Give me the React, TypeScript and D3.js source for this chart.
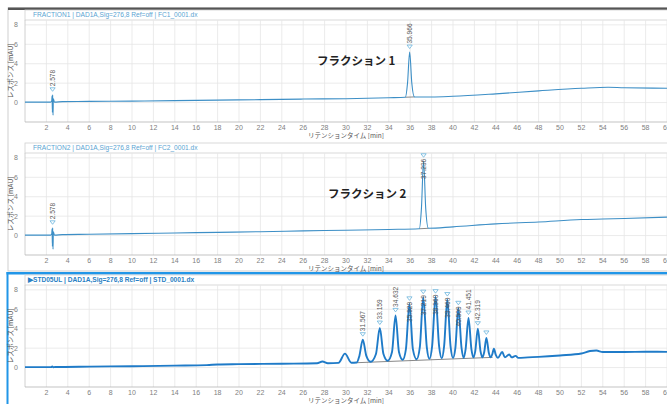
import * as React from "react";
import * as d3 from "d3";

// retention time [min], response [mAU]
const fraction1Trace: [number, number][] = [
  [0, 0.05], [2.4, 0.05], [2.5, 0.2], [2.53, 0.7], [2.56, -1.0], [2.59, 0.8], [2.62, -1.3],
  [2.65, 0.4], [2.75, 0.05],
  [3.5, 0.1], [6, 0.12], [10, 0.15], [14, 0.2], [18, 0.25], [22, 0.3], [26, 0.36],
  [30, 0.4], [34, 0.5], [35.55, 0.55], [35.75, 2.0], [35.95, 5.2], [36.15, 2.0],
  [36.4, 0.58], [38, 0.58], [40, 0.65], [44, 0.9], [48, 1.2], [52, 1.47], [54.5, 1.58],
  [56, 1.52], [60, 1.48],
];

const fraction2Trace: [number, number][] = [
  [0, 0.05], [2.4, 0.05], [2.5, 0.2], [2.53, 0.7], [2.56, -1.1], [2.59, 0.8], [2.62, -1.4],
  [2.65, 0.4], [2.75, 0.05],
  [3.5, 0.1], [6, 0.13], [10, 0.2], [14, 0.27], [18, 0.33], [22, 0.4], [26, 0.48],
  [30, 0.55], [34, 0.63], [36.85, 0.7], [37.05, 2.8], [37.25, 7.7], [37.45, 2.8],
  [37.7, 0.75], [40, 0.9], [44, 1.2], [48, 1.4], [52, 1.65], [54, 1.7], [56, 1.75],
  [60, 1.9],
];

const stdTrace: [number, number][] = [
  [0, 0.05], [2.45, 0.05], [2.55, 0.12], [2.65, 0.04], [2.8, 0.06], [6, 0.1], [10, 0.14],
  [14, 0.2], [17, 0.25], [18, 0.32], [20, 0.35], [24, 0.4], [27.3, 0.44], [27.8, 0.62],
  [28.3, 0.45], [29.3, 0.48], [29.9, 1.44], [30.5, 0.5], [31.0, 0.52],
  [31.25, 1.2], [31.57, 2.87], [31.9, 1.2], [32.3, 0.6],
  [32.8, 1.4], [33.16, 4.07], [33.5, 1.4], [33.9, 0.7],
  [34.3, 1.6], [34.63, 5.37], [34.95, 1.6], [35.3, 0.8],
  [35.6, 1.9], [35.93, 6.56], [36.25, 1.9], [36.6, 0.85],
  [36.9, 2.1], [37.22, 7.25], [37.55, 2.1], [37.8, 0.9],
  [38.05, 2.2], [38.37, 7.3], [38.7, 2.2], [38.95, 0.95],
  [39.17, 2.2], [39.47, 7.0], [39.77, 2.2], [40.0, 1.0],
  [40.22, 2.0], [40.5, 6.1], [40.8, 2.0], [41.0, 1.0],
  [41.18, 1.9], [41.45, 5.1], [41.72, 1.9], [41.9, 1.05],
  [42.08, 1.7], [42.32, 4.0], [42.57, 1.7], [42.75, 1.05],
  [42.92, 1.6], [43.12, 3.05], [43.35, 1.5], [43.5, 1.05],
  [43.68, 1.4], [43.82, 1.95], [44.0, 1.3], [44.2, 1.0],
  [44.6, 1.6], [44.85, 1.05], [45.25, 1.35], [45.5, 1.05], [45.85, 1.2], [46.1, 1.0],
  [47, 1.05], [48, 1.1], [50, 1.25], [52, 1.45], [52.8, 1.7], [53.4, 1.75], [54, 1.6],
  [56, 1.6], [58, 1.63], [60, 1.62],
];

// peak markers: time, apex height, label
const fraction1Peaks = [
  { t: 2.578, h: 0.8, label: "2.578" },
  { t: 35.95, h: 5.2, label: "35.966" },
];
const fraction2Peaks = [
  { t: 2.578, h: 0.8, label: "2.578" },
  { t: 37.25, h: 7.7, label: "37.236" },
];
const stdPeaks = [
  { t: 31.57, h: 2.87, label: "31.567" },
  { t: 33.16, h: 4.07, label: "33.159" },
  { t: 34.63, h: 5.37, label: "34.632" },
  { t: 35.93, h: 6.56, label: "35.929" },
  { t: 37.22, h: 7.25, label: "37.219" },
  { t: 38.37, h: 7.3, label: "38.360" },
  { t: 39.47, h: 7.0, label: "39.460" },
  { t: 40.5, h: 6.1, label: "40.509" },
  { t: 41.45, h: 5.1, label: "41.451" },
  { t: 42.32, h: 4.0, label: "42.319" },
  { t: 43.12, h: 3.05, label: "" },
];

// integration baselines
const fraction1Base: [number, number][] = [[35.55, 0.55], [36.4, 0.58]];
const fraction2Base: [number, number][] = [[36.85, 0.7], [37.7, 0.75]];
const stdBase: [number, number][] = [[31.0, 0.5], [43.7, 1.05]];

const xTicks = d3.range(2, 62, 2);
const yTicks = [0, 2, 4, 6, 8];

const W = 667;
const left = 25;
const font = "'Liberation Sans', Arial, sans-serif";
const jpFont = "'Noto Sans CJK JP', sans-serif";

type PanelProps = {
  top: number;
  title: string;
  trace: [number, number][];
  peaks: { t: number; h: number; label: string }[];
  base: [number, number][];
  note?: string;
  noteX?: number;
  highlight?: boolean;
};

function Panel({ top, title, trace, peaks, base, note, noteX, highlight }: PanelProps) {
  const plotTop = top;
  const plotBottom = top + 102;
  const x = d3.scaleLinear().domain([0, 60]).range([left, W]);
  const y = d3.scaleLinear().domain([-2, 8.5]).range([plotBottom, plotTop]);
  const line = d3
    .line<[number, number]>()
    .x((d) => x(d[0]))
    .y((d) => y(d[1]))
    .curve(d3.curveMonotoneX);

  const stroke = highlight ? "#1f7bc8" : "#3d8fc6";
  const labelLen = 17;

  return (
    <g>
      {/* title box */}
      <rect x={left} y={plotTop - 10} width={W - left + 2} height={10} fill="#fff" stroke="#d0d0d0" strokeWidth={0.8} />
      <text
        x={highlight ? 28 : 33}
        y={plotTop - 2.8}
        fontSize={6.6}
        fontFamily={font}
        fill={highlight ? "#2a7fc4" : "#5aa4d2"}
        fontWeight={highlight ? 600 : 400}
      >
        {title}
      </text>
      {/* grid */}
      {xTicks.map((t) => (
        <line key={`gx${t}`} x1={x(t)} x2={x(t)} y1={plotTop} y2={plotBottom} stroke="#e6e6e6" strokeWidth={0.8} />
      ))}
      {yTicks.map((t) => (
        <line key={`gy${t}`} x1={left} x2={W} y1={y(t)} y2={y(t)} stroke="#e6e6e6" strokeWidth={0.8} />
      ))}
      <line x1={left} x2={left} y1={plotTop} y2={plotBottom} stroke="#c4c4c4" strokeWidth={0.8} />
      <line x1={left} x2={W} y1={plotBottom} y2={plotBottom} stroke="#b4b4b4" strokeWidth={0.8} />
      {/* tick labels */}
      {xTicks.map((t) => (
        <text key={`tx${t}`} x={x(t)} y={plotBottom + 8} fontSize={7} fontFamily={font} fill="#808080" textAnchor="middle">
          {t}
        </text>
      ))}
      {yTicks.map((t) => (
        <text key={`ty${t}`} x={18} y={y(t) + 2.5} fontSize={7} fontFamily={font} fill="#808080" textAnchor="end">
          {t}
        </text>
      ))}
      <text
        transform={`translate(12.5, ${(plotTop + plotBottom) / 2}) rotate(-90)`}
        fontSize={6.8}
        fontFamily={jpFont}
        fill="#555"
        textAnchor="middle"
      >
        レスポンス [mAU]
      </text>
      <text x={x(30)} y={plotBottom + 16} fontSize={6.5} fontFamily={jpFont} fill="#555" textAnchor="middle">
        リテンションタイム [min]
      </text>
      {/* baseline + trace */}
      <path d={d3.line()(base.map((d) => [x(d[0]), y(d[1])]) as [number, number][]) || ""} stroke="#555" strokeWidth={0.7} fill="none" />
      <path d={line(trace) || ""} fill="none" stroke={stroke} strokeWidth={highlight ? 1.9 : 1.1} strokeLinejoin="round" />
      {/* peak markers */}
      {peaks.map((p) => {
        const px = x(p.t);
        const py = y(p.h) - 4;
        const above = py - 3 - labelLen > plotTop;
        return (
          <g key={p.label + p.t}>
            <path d={`M${px - 2.6},${py - 3} L${px + 2.6},${py - 3} L${px},${py + 0.5} Z`} fill="#fff" stroke="#6ab4dc" strokeWidth={0.8} />
            {p.label && (
              <text
                transform={`translate(${px + 2.3}, ${above ? py - 4.5 : py + 2}) rotate(-90)`}
                fontSize={6.6}
                fontFamily={font}
                fill="#555"
                textAnchor={above ? "start" : "end"}
              >
                {p.label}
              </text>
            )}
          </g>
        );
      })}
      {note && (
        <text x={noteX} y={plotTop + 45} fontSize={11.5} fontWeight={700} fontFamily={jpFont} fill="#222">
          {note}
        </text>
      )}
    </g>
  );
}

export default function App() {
  return (
    <svg width={W} height={404} style={{ position: "absolute", left: 0, top: 0, background: "#fff" }}>
      <rect x={0} y={0} width={W} height={404} fill="#fff" />
      {/* outer frames */}
      <rect x={8} y={8} width={W} height={263} fill="none" stroke="#cfcfcf" strokeWidth={1} />
      <rect x={8} y={7.5} width={W} height={2.5} fill="#555" />
      <rect x={6.5} y={272} width={W} height={2.5} fill="#2196e8" />
      <rect x={6.5} y={272} width={2} height={140} fill="#2196e8" />
      <Panel
        top={20}
        title="FRACTION1 | DAD1A,Sig=276,8 Ref=off | FC1_0001.dx"
        trace={fraction1Trace}
        peaks={fraction1Peaks}
        base={fraction1Base}
        note="フラクション 1"
        noteX={317}
      />
      <Panel
        top={153}
        title="FRACTION2 | DAD1A,Sig=276,8 Ref=off | FC2_0001.dx"
        trace={fraction2Trace}
        peaks={fraction2Peaks}
        base={fraction2Base}
        note="フラクション 2"
        noteX={328}
      />
      <Panel
        top={285}
        title="▶STD05UL | DAD1A,Sig=276,8 Ref=off | STD_0001.dx"
        trace={stdTrace}
        peaks={stdPeaks}
        base={stdBase}
        highlight
      />
    </svg>
  );
}
